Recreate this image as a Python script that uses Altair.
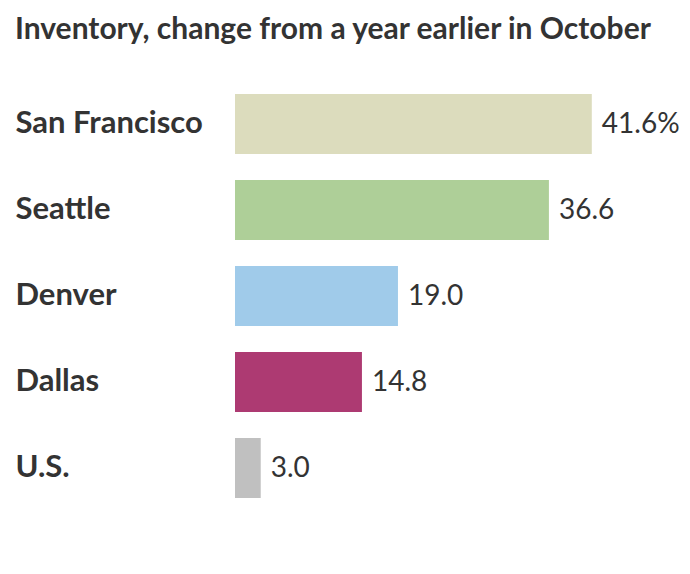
import altair as alt
import pandas as pd

cities = ["San Francisco", "Seattle", "Denver", "Dallas", "U.S."]
values = [41.6, 36.6, 19.0, 14.8, 3.0]
labels = ["41.6%", "36.6", "19.0", "14.8", "3.0"]
colors = ["#dcdcbd", "#aecf98", "#a0cbea", "#ad3a72", "#c0c0c0"]

df = pd.DataFrame({"city": cities, "value": values, "label": labels})

FONT_B = "Lato"
FONT_R = "Lato"

y_enc = alt.Y(
    "city:N",
    sort=cities,
    title=None,
    scale=alt.Scale(paddingInner=0.3023, paddingOuter=0.1512),
    axis=alt.Axis(
        domain=False, ticks=False, tickSize=0, labelAlign="left",
        labelPadding=220, labelFont=FONT_B, labelFontWeight="bold",
        labelFontSize=31, labelColor="#333333", labelLimit=300,
    ),
)
x_enc = alt.X("value:Q", scale=alt.Scale(domain=[0, 52]), axis=None)

bars = alt.Chart(df).mark_bar(cornerRadius=0).encode(
    x=x_enc,
    y=y_enc,
    color=alt.Color("city:N", scale=alt.Scale(domain=cities, range=colors), legend=None),
)

text = alt.Chart(df).mark_text(
    align="left", baseline="middle", dx=10, dy=1, font=FONT_R, fontSize=28, color="#333333"
).encode(x=x_enc, y=y_enc, text="label:N")

chart = (bars + text).properties(
    width=446,
    height=430,
    padding={"left": 7, "top": 7, "right": 0, "bottom": 0},
    title=alt.TitleParams(
        "Inventory, change from a year earlier in October",
        anchor="start", frame="bounds", font=FONT_B, fontWeight="bold",
        fontSize=30, color="#333333", offset=36,
    ),
).configure_view(stroke=None)

chart.save("out.html", embed_options={"renderer": "svg", "actions": False})
